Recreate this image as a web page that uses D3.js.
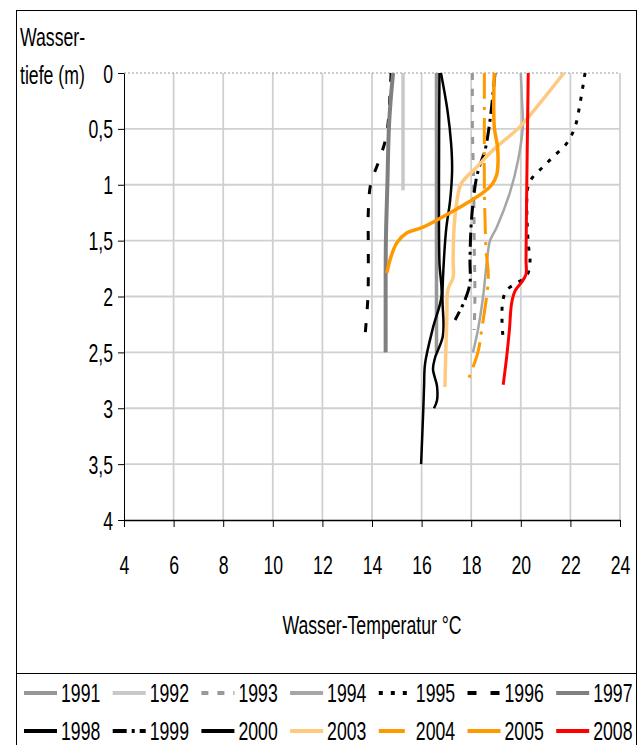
<!DOCTYPE html>
<html>
<head>
<meta charset="utf-8">
<script src="https://cdn.jsdelivr.net/npm/d3@7"></script>
<style>
  body { margin: 0; background: #fff; }
  text { font-family: "Liberation Sans", Arial, sans-serif; fill: #000; }
</style>
</head>
<body>
<svg width="642" height="745"></svg>
<script>
// axis ticks
var xTicks = [4, 6, 8, 10, 12, 14, 16, 18, 20, 22, 24];
var yTicks = [0, 0.5, 1, 1.5, 2, 2.5, 3, 3.5, 4];
var yTickLabels = ["0", "0,5", "1", "1,5", "2", "2,5", "3", "3,5", "4"];

var years = ["1991", "1992", "1993", "1994", "1995", "1996", "1997",
             "1998", "1999", "2000", "2003", "2004", "2005", "2008"];

// depth (m) and temperature (°C) per year
var depth1991 = [0, 2.5];
var temp1991  = [16.6, 16.6];
var depth1992 = [0, 1.05];
var temp1992  = [15.25, 15.25];
var depth1993 = [0, 0.5, 1, 1.5, 2, 2.3];
var temp1993  = [18.05, 18.05, 18.1, 18.12, 18.15, 18.12];
var depth1994 = [0, 0.25, 0.48, 0.78, 1.07, 1.38, 1.5, 1.69, 2.0, 2.3, 2.5];
var temp1994  = [20.0, 20.05, 20.08, 19.89, 19.56, 19.03, 18.76, 18.63, 18.48, 18.27, 18.07];
var depth1995 = [0, 0.27, 0.48, 0.63, 0.75, 0.84, 0.93, 1.02, 1.5, 1.69, 1.81, 1.88, 1.94, 2.03, 2.19, 2.36];
var temp1995  = [22.59, 22.39, 22.19, 21.85, 21.3, 20.9, 20.49, 20.29, 20.29, 20.37, 20.25, 19.85, 19.44, 19.28, 19.24, 19.28];
var depth1996 = [0, 0.09, 0.55, 0.78, 0.99, 1.25, 1.52, 1.85, 2.03, 2.35];
var temp1996  = [14.77, 14.75, 14.59, 14.29, 13.95, 13.85, 13.85, 13.85, 13.83, 13.72];
var depth1997 = [0, 0.25, 0.5, 1, 1.5, 2, 2.5];
var temp1997  = [14.85, 14.75, 14.68, 14.62, 14.56, 14.55, 14.55];
var depth1998 = [0, 0.33, 0.63, 0.87, 1.14, 1.38, 1.67, 2.0, 2.35, 2.55, 2.65, 2.8, 2.93, 3.0];
var temp1998  = [16.78, 17.04, 17.19, 17.23, 17.15, 17.0, 16.9, 16.84, 16.86, 16.54, 16.46, 16.62, 16.62, 16.5];
var depth1999 = [0, 0.42, 0.69, 0.78, 0.93, 1.29, 1.67, 1.88, 2.03, 2.21];
var temp1999  = [18.96, 18.76, 18.56, 18.42, 18.22, 18.02, 17.95, 17.95, 17.75, 17.35];
var depth2000 = [0, 1.0, 1.7, 2.0, 2.27, 2.6, 2.8, 3.0, 3.5];
var temp2000  = [16.72, 16.7, 16.72, 16.8, 16.47, 16.14, 16.1, 16.07, 15.98];
var depth2003 = [0, 0.27, 0.48, 0.69, 0.84, 0.99, 1.14, 1.38, 1.67, 1.83, 1.94, 2.18, 2.45, 2.81];
var temp2003  = [21.74, 20.77, 19.97, 18.88, 18.23, 17.6, 17.43, 17.31, 17.27, 17.27, 17.06, 17.02, 16.98, 16.94];
var depth2004 = [0, 0.5, 1.0, 1.58, 1.83, 2.3, 2.5, 2.75];
var temp2004  = [18.53, 18.53, 18.53, 18.6, 18.69, 18.42, 18.27, 17.87];
var depth2005 = [0, 0.48, 0.66, 0.81, 0.91, 1.0, 1.08, 1.14, 1.25, 1.38, 1.43, 1.52, 1.67, 1.79];
var temp2005  = [18.93, 18.93, 19.06, 19.08, 19.03, 18.83, 18.42, 18.0, 17.15, 16.06, 15.41, 15.0, 14.73, 14.6];
var depth2008 = [0, 1.02, 1.67, 1.8, 1.87, 1.95, 2.06, 2.3, 2.54, 2.79];
var temp2008  = [20.3, 20.24, 20.21, 20.21, 20.04, 19.77, 19.63, 19.54, 19.43, 19.29];

var depths = [depth1991, depth1992, depth1993, depth1994, depth1995, depth1996, depth1997,
              depth1998, depth1999, depth2000, depth2003, depth2004, depth2005, depth2008];
var temps  = [temp1991, temp1992, temp1993, temp1994, temp1995, temp1996, temp1997,
              temp1998, temp1999, temp2000, temp2003, temp2004, temp2005, temp2008];

// line look per year
var colors = ["#969696", "#c8c8c8", "#999999", "#a6a6a6", "#000", "#000", "#808080",
              "#000", "#000", "#000", "#ffc97f", "#ff9900", "#ff9900", "#ff0000"];
var widths = [3.5, 3.5, 3, 2.5, 3, 3, 4, 2.5, 3, 2.5, 3.5, 3, 3.5, 3];
var dashes = [null, null, "7,9", null, "4,8", "9,14", null, null, "14,5,3,5", null, null, "26,8,3,8", null, null];

var series = years.map(function(y, i) {
  return { year: y, color: colors[i], width: widths[i], dash: dashes[i],
           pts: depths[i].map(function(d, j) { return [temps[i][j], d]; }) };
});

var svg = d3.select("svg");
var x = d3.scaleLinear().domain([4, 24]).range([124, 620]);
var y = d3.scaleLinear().domain([0, 4]).range([73, 520]);
var fs = 26, sx = 0.68; // tall narrow text

// outer frame and legend separator
svg.append("rect").attr("x", 16.5).attr("y", 10.5).attr("width", 620).attr("height", 760)
  .attr("fill", "none").attr("stroke", "#000");
svg.append("line").attr("x1", 16).attr("x2", 637).attr("y1", 673.5).attr("y2", 673.5)
  .attr("stroke", "#000");

// gridlines
svg.selectAll(".vg").data(xTicks.slice(1)).enter().append("line")
  .attr("x1", function(d) { return x(d); }).attr("x2", function(d) { return x(d); })
  .attr("y1", y(0)).attr("y2", y(4))
  .attr("stroke", "#d0d0d0").attr("stroke-width", 1.8);
svg.selectAll(".hg").data(yTicks.slice(1, -1)).enter().append("line")
  .attr("x1", x(4)).attr("x2", x(24))
  .attr("y1", function(d) { return y(d); }).attr("y2", function(d) { return y(d); })
  .attr("stroke", "#d0d0d0").attr("stroke-width", 1.8);
svg.append("line").attr("x1", x(4)).attr("x2", x(24)).attr("y1", y(0)).attr("y2", y(0))
  .attr("stroke", "#999").attr("stroke-dasharray", "2,2");

// axes
var yAxis = svg.append("g").attr("transform", "translate(" + x(4) + ",0)")
  .call(d3.axisLeft(y).tickValues(yTicks).tickSize(6).tickSizeOuter(0)
    .tickFormat(function(d, i) { return yTickLabels[i]; }));
yAxis.select(".domain").attr("stroke", "#000");
yAxis.selectAll("text").attr("font-size", fs).attr("dy", 0).attr("x", 0)
  .attr("transform", "translate(-11,9) scale(" + sx + ",1)");

var xAxis = svg.append("g").attr("transform", "translate(0," + y(4) + ")")
  .call(d3.axisBottom(x).tickValues(xTicks).tickSize(7).tickSizeOuter(0));
xAxis.select(".domain").attr("stroke", "#000").attr("stroke-width", 1.5);
xAxis.selectAll("text").attr("font-size", fs).attr("dy", 0).attr("y", 0)
  .attr("transform", "translate(0,54) scale(" + sx + ",1)");
svg.selectAll(".tick text").attr("font-family", "Liberation Sans, Arial, sans-serif");

function label(px, py, s, anchor) {
  svg.append("text").attr("transform", "translate(" + px + "," + py + ") scale(" + sx + ",1)")
    .attr("text-anchor", anchor || "start").attr("font-size", fs).text(s);
}
label(20, 46, "Wasser-");
label(20, 84, "tiefe (m)");
label(372, 634, "Wasser-Temperatur °C", "middle");

// profiles
var line = d3.line()
  .x(function(p) { return x(p[0]); })
  .y(function(p) { return y(p[1]); })
  .curve(d3.curveCatmullRom.alpha(0.5));

svg.selectAll(".profile").data(series).enter().append("path")
  .attr("d", function(s) { return line(s.pts); })
  .attr("fill", "none")
  .attr("stroke", function(s) { return s.color; })
  .attr("stroke-width", function(s) { return s.width; })
  .attr("stroke-dasharray", function(s) { return s.dash; });

// legend, two rows of seven
var leg = svg.selectAll(".leg").data(series).enter().append("g")
  .attr("transform", function(s, i) {
    return "translate(" + (24 + (i % 7) * 88.7) + "," + (i < 7 ? 693 : 731) + ")";
  });
leg.append("line").attr("x1", 0).attr("x2", 33).attr("y1", 0).attr("y2", 0)
  .attr("stroke", function(s) { return s.color; })
  .attr("stroke-width", function(s) { return Math.max(s.width, 4); })
  .attr("stroke-dasharray", function(s) { return s.dash; });
leg.append("text").attr("transform", "translate(37,9) scale(" + sx + ",1)")
  .attr("font-size", fs).text(function(s) { return s.year; });
</script>
</body>
</html>
